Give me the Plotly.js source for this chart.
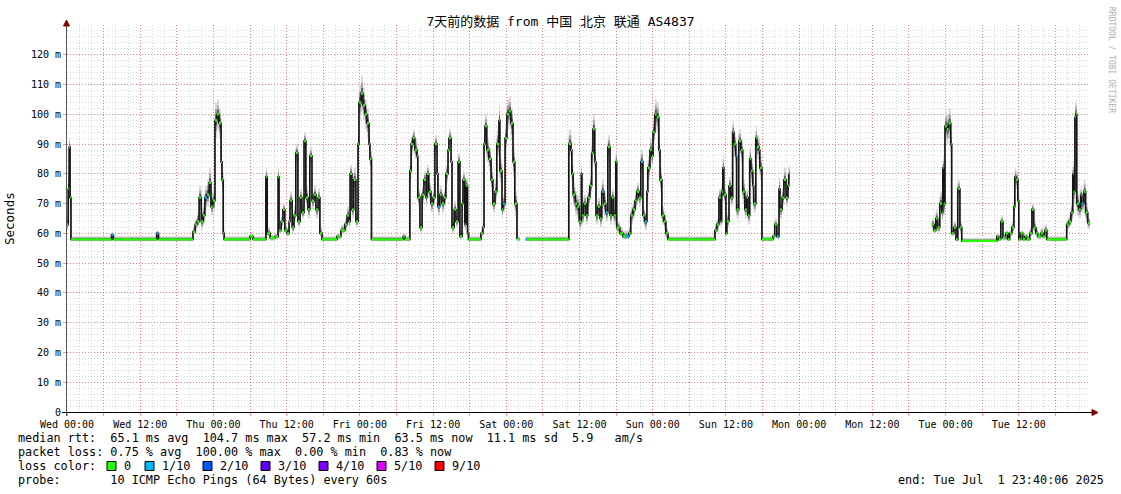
<!DOCTYPE html>
<html>
<head>
<meta charset="utf-8">
<script src="https://cdn.plot.ly/plotly-3.0.1.min.js"></script>
<style>html,body{margin:0;padding:0;background:#fff;}#chart{width:1121px;height:494px;}</style>
</head>
<body>
<div id="chart"></div>
<script>
// ---------------- DATA ----------------
// time in hours since Wed 00:00; median RTT in ms; smoke spread above/below median (ms); loss count (of 10)
const hours = [
  0.0, 0.2, 0.35, 0.5, 0.65, 7.3, 7.6, 14.7, 15.0,
  20.65, 21.0, 21.3, 21.65, 22.0, 22.3, 22.6, 22.95, 23.3, 23.6, 23.9, 24.25, 24.6, 24.9, 25.25, 25.4, 25.6, 25.75,
  30.0, 30.5, 32.6, 32.8, 33.3, 34.1, 34.6, 34.75, 35.1, 35.4,
  35.7, 36.05, 36.4, 36.55, 36.9, 37.2, 37.5, 37.85, 38.2, 38.5,
  38.85, 39.15, 39.5, 39.8, 40.15, 40.5, 40.8, 41.15, 41.45, 41.8,
  44.25, 44.9, 45.55, 45.9, 46.2, 46.4, 46.7, 47.0, 47.35, 47.7,
  47.85, 48.2, 48.5, 48.85, 49.15, 49.5, 49.65, 49.9, 55.1, 55.4,
  56.2, 56.4, 56.7, 57.0, 57.35, 57.5, 57.85, 58.2, 58.5, 58.85,
  59.0, 59.3, 59.65, 60.0, 60.3, 60.65, 60.8, 61.1, 61.45, 61.8,
  62.1, 62.45, 62.6, 62.95, 63.1, 63.45, 63.75, 64.1, 64.4, 64.75,
  64.9, 65.2, 65.4, 65.65, 65.8,
  67.85, 68.15, 68.35, 68.5, 68.8, 69.15, 69.5, 69.8, 70.15, 70.45,
  70.8, 70.95, 71.3, 71.45, 71.8, 72.1, 72.45, 72.75, 73.1, 73.4,
  73.75, 74.2, 75.2, 75.4,
  82.25, 82.6, 82.75, 82.95, 83.3, 83.6, 83.95, 84.3, 84.4, 84.7,
  85.05, 85.35, 85.7, 86.0, 86.2, 86.5, 86.7, 87.0, 87.35, 87.65,
  88.0, 88.3, 88.65, 89.0, 89.3, 89.6, 89.95, 90.1, 90.6, 91.1,
  91.6, 92.1, 92.4, 92.75, 93.1, 93.4, 93.75, 94.05, 94.4, 94.7,
  95.05, 95.2, 95.55, 95.85, 96.05, 96.35, 96.65, 97.0, 97.2, 97.5,
  97.85, 98.15, 98.5,
  106.2, 106.5, 106.85, 107.15, 107.3, 107.5, 107.65, 108.0, 108.15, 108.5,
  108.8, 109.1, 109.3, 109.6, 109.75, 110.1, 110.45, 110.75, 111.1, 111.4,
  111.6, 111.9, 112.1, 112.4, 112.55, 112.9, 113.05, 113.4, 113.55, 113.9,
  115.7, 116.0, 116.35, 116.7, 116.85, 117.2, 117.5, 117.85, 118.15, 118.3,
  118.45,
  141.75, 142.1, 142.4, 142.7, 143.05, 143.4, 143.55, 143.7, 143.9, 144.2,
  144.5, 144.85, 145.0, 145.35, 145.7, 146.0, 146.35, 146.65, 152.4, 152.7,
  153.05, 153.4, 153.85, 154.2, 154.5, 154.85, 155.2, 155.35, 155.5, 155.85,
  156.0, 156.3, 156.65, 157.0, 157.3, 157.8, 158.15, 158.45, 158.8, 159.1,
  159.6, 159.95, 160.25, 160.6, 163.85, 164.2, 164.55, 164.85, 165.0, 165.2,
  165.35, 165.5, 165.85, 166.15, 166.3, 166.65, 166.95, 167.3
];
const median = [
  63, 75, 89, 72, 58, 59.5, 58, 60, 58,
  60.5, 63, 64, 72, 64, 66, 72, 73, 77, 69, 71, 98, 100, 97, 84, 78, 60, 58,
  59, 58, 79, 60, 58.5, 59, 79, 61, 64, 68,
  61, 60, 64, 71, 62, 66, 87, 64, 72, 67,
  91, 72, 68, 86, 71, 73, 68, 72, 60, 58,
  59, 61, 63, 66, 64, 80, 68, 78, 64, 90,
  104, 107, 103, 100, 97, 90, 85, 58, 59, 58,
  81, 90, 92, 88, 86, 72, 62, 73, 78, 72,
  80, 74, 70, 72, 90, 80, 69, 73, 70, 72,
  80, 88, 92, 84, 62, 68, 64, 84, 59, 70,
  78, 63, 76, 60, 58,
  60, 62, 90, 96, 88, 85, 78, 70, 74, 90,
  98, 81, 68, 70, 92, 100, 101, 97, 84, 70,
  58, null, 58, 58,
  90, 88, 80, 73, 70, 69, 64, 80, 66, 70,
  66, 72, 76, 87, 95, 84, 66, 69, 65, 74,
  70, 67, 89, 66, 72, 66, 84, 62, 60, 59,
  59, 60, 66, 68, 71, 74, 72, 84, 66, 64,
  74, 82, 88, 86, 94, 100, 99, 88, 78, 66,
  64, 60, 58,
  61, 63, 72, 64, 74, 82, 73, 60, 64, 76,
  72, 94, 90, 86, 68, 91, 88, 74, 68, 72,
  66, 85, 81, 76, 70, 92, 89, 88, 82, 58,
  59, 63, 59, 75, 68, 72, 78, 72, 76, 80,
  null,
  63, 61, 65, 62, 70, 67, 82, 70, 96, 95,
  97, 90, 60, 62, 58, 75, 62, 57.5, 59, 58,
  64, 58.5, 60, 58, 60, 62, 69, 79, 78, 71,
  58, 60, 58, 59, 58, 60, 68, 62, 60, 59,
  60, 59, 61, 58, 63, 64, 67, 80, 74, 99,
  100, 70, 68, 73, 70, 74, 67, 63.5
];
const smokeUp = [
  3, 5, 3, 6, 1, 1, 1, 1, 1,
  2, 2, 3, 4, 5, 4, 4, 5, 5, 5, 4, 6, 5, 5, 4, 4, 2, 1,
  1, 1, 3, 2, 1, 1, 3, 2, 2, 2,
  2, 2, 2, 3, 2, 3, 3, 3, 3, 3,
  3, 4, 3, 3, 3, 3, 3, 3, 2, 1,
  1, 2, 2, 3, 3, 3, 3, 4, 3, 5,
  6, 6, 6, 5, 5, 4, 4, 1, 1, 1,
  3, 3, 3, 4, 4, 3, 2, 3, 3, 3,
  3, 3, 3, 3, 3, 4, 3, 3, 3, 3,
  3, 3, 3, 4, 3, 3, 3, 3, 2, 3,
  3, 3, 3, 2, 1,
  1, 2, 4, 4, 4, 4, 4, 4, 4, 5,
  5, 4, 3, 3, 5, 5, 5, 5, 5, 4,
  1, 0, 1, 1,
  5, 5, 5, 4, 4, 4, 3, 3, 3, 3,
  3, 3, 3, 4, 5, 4, 3, 3, 3, 4,
  4, 3, 4, 3, 3, 3, 4, 2, 2, 2,
  2, 2, 3, 3, 3, 3, 3, 4, 3, 3,
  3, 4, 4, 4, 5, 5, 5, 4, 4, 3,
  3, 2, 1,
  2, 2, 3, 3, 3, 4, 3, 2, 3, 3,
  3, 4, 4, 4, 3, 4, 4, 4, 3, 3,
  3, 4, 4, 4, 3, 4, 4, 4, 4, 1,
  1, 2, 2, 4, 3, 3, 4, 3, 4, 3,
  0,
  2, 2, 3, 2, 4, 4, 4, 4, 5, 5,
  5, 4, 2, 2, 1, 3, 2, 1, 1, 1,
  2, 1, 1, 1, 1, 2, 3, 3, 3, 3,
  1, 1, 1, 1, 1, 2, 2, 2, 2, 1,
  2, 1, 2, 1, 2, 2, 3, 4, 4, 5,
  5, 4, 3, 3, 3, 4, 3, 2
];
const smokeDown = [
  2, 5, 5, 6, 0.5, 1, 0.5, 1, 0.5,
  1, 2, 2, 4, 3, 3, 4, 4, 5, 3, 4, 6, 5, 5, 4, 4, 1, 0.5,
  1, 0.5, 3, 1, 1, 1, 3, 1, 2, 2,
  1, 1, 2, 3, 2, 2, 4, 2, 3, 2,
  4, 3, 3, 3, 3, 3, 3, 3, 1, 0.5,
  1, 1, 2, 2, 2, 4, 3, 4, 2, 5,
  6, 6, 5, 5, 5, 4, 4, 0.5, 1, 0.5,
  4, 4, 3, 3, 3, 3, 2, 3, 3, 3,
  3, 3, 3, 3, 4, 4, 3, 3, 3, 3,
  3, 3, 3, 4, 2, 3, 2, 4, 1, 3,
  3, 2, 3, 1, 0.5,
  1, 2, 4, 4, 4, 4, 4, 3, 3, 4,
  5, 4, 3, 3, 5, 5, 5, 6, 5, 4,
  0.5, 0, 0.5, 0.5,
  4, 5, 5, 4, 4, 4, 3, 4, 3, 3,
  3, 3, 3, 4, 5, 4, 3, 3, 3, 4,
  4, 3, 5, 3, 3, 3, 4, 2, 1, 1,
  1, 1, 3, 3, 3, 3, 3, 4, 3, 3,
  3, 4, 4, 4, 4, 5, 5, 4, 4, 3,
  3, 2, 0.5,
  1, 2, 3, 2, 3, 4, 3, 1, 2, 3,
  3, 4, 4, 4, 3, 4, 4, 4, 3, 3,
  3, 4, 4, 4, 3, 4, 4, 4, 4, 0.5,
  1, 2, 1, 4, 3, 3, 4, 3, 4, 3,
  0,
  2, 1, 2, 2, 3, 3, 4, 4, 5, 5,
  5, 4, 1, 2, 1, 3, 2, 0.5, 1, 0.5,
  2, 1, 1, 0.5, 1, 2, 3, 3, 3, 3,
  0.5, 1, 0.5, 1, 0.5, 1, 2, 2, 1, 1,
  1, 1, 1, 0.5, 2, 2, 3, 4, 4, 5,
  5, 4, 3, 3, 3, 3, 3, 2
];
const lossCount = [
  0, 0, 0, 0, 0, 1, 0, 1, 0,
  0, 0, 0, 0, 0, 0, 1, 0, 0, 0, 0, 0, 0, 0, 0, 0, 0, 0,
  0, 0, 0, 0, 0, 0, 0, 0, 0, 0,
  0, 0, 0, 0, 0, 0, 0, 0, 0, 0,
  0, 0, 0, 0, 0, 0, 0, 0, 0, 0,
  0, 0, 0, 0, 0, 0, 0, 0, 0, 0,
  0, 0, 0, 0, 0, 0, 0, 0, 0, 0,
  0, 0, 0, 0, 0, 0, 0, 0, 0, 0,
  0, 0, 0, 0, 0, 0, 1, 0, 0, 0,
  0, 0, 0, 0, 0, 0, 0, 0, 0, 0,
  0, 0, 0, 0, 0,
  0, 0, 0, 0, 0, 0, 0, 0, 0, 0,
  0, 0, 0, 1, 0, 0, 0, 0, 0, 0,
  0, 0, 1, 0,
  0, 0, 0, 0, 0, 0, 0, 0, 0, 0,
  0, 0, 0, 0, 0, 0, 0, 0, 0, 1,
  0, 1, 0, 0, 0, 0, 0, 0, 0, 0,
  1, 0, 0, 0, 0, 0, 0, 1, 0, 1,
  0, 0, 0, 0, 0, 0, 0, 0, 0, 0,
  0, 0, 0,
  0, 0, 0, 0, 0, 0, 0, 0, 0, 0,
  0, 0, 0, 1, 0, 0, 0, 0, 0, 0,
  0, 0, 0, 0, 0, 0, 0, 0, 0, 0,
  0, 0, 1, 0, 0, 0, 0, 0, 0, 0,
  0,
  0, 0, 0, 0, 0, 0, 0, 0, 0, 0,
  0, 0, 0, 0, 0, 0, 0, 0, 0, 0,
  0, 0, 0, 0, 0, 0, 0, 0, 0, 0,
  0, 0, 0, 0, 0, 0, 0, 0, 0, 0,
  0, 0, 0, 0, 0, 0, 0, 0, 0, 0,
  0, 0, 0, 0, 1, 0, 0, 0
];
const xEnd = 167.67; // Tue 23:40:06

const xTickHours = [0,6,12,18,24,30,36,42,48,54,60,66,72,78,84,90,96,102,108,114,120,126,132,138,144,150,156,162];
const xTickLabels = ["Wed 00:00","","Wed 12:00","","Thu 00:00","","Thu 12:00","","Fri 00:00","","Fri 12:00","",
  "Sat 00:00","","Sat 12:00","","Sun 00:00","","Sun 12:00","","Mon 00:00","","Mon 12:00","","Tue 00:00","","Tue 12:00",""];
const yTickVals = [0,10,20,30,40,50,60,70,80,90,100,110,120];
const yTickLabels = ["0","10 m","20 m","30 m","40 m","50 m","60 m","70 m","80 m","90 m","100 m","110 m","120 m"];

const lossLevels = [0,1,2,3,4,5,9];
const lossLabels = ["0","1/10","2/10","3/10","4/10","5/10","9/10"];
const lossColors = ["#26ff00","#00b8ff","#0059ff","#5e00ff","#7e00ff","#dd00ff","#ff0000"];

const titleText = "7天前的数据 from 中国 北京 联通 AS4837";
const statRtt = "median rtt:  65.1 ms avg  104.7 ms max  57.2 ms min  63.5 ms now  11.1 ms sd  5.9   am/s";
const statLoss = "packet loss: 0.75 % avg  100.00 % max  0.00 % min  0.83 % now";
const probeText = "probe:       10 ICMP Echo Pings (64 Bytes) every 60s";
const endText = "end: Tue Jul  1 23:40:06 2025";

// ---------------- RENDERING ----------------
const MONO = "'DejaVu Sans Mono', 'Noto Sans CJK SC', monospace";
const W = 1121, H = 494, PL = 67, PR = 1090, PT = 25, PB = 412;
const px = x => (x - PL) / (PR - PL);
const py = y => (PB - y) / (PB - PT);
const nb = s => s.replace(/ /g, "\u00a0");

const n = Math.min(hours.length, median.length, smokeUp.length, smokeDown.length, lossCount.length);
const segEnd = i => (i + 1 < n ? hours[i + 1] : xEnd);

// contiguous runs of valid data
const runs = [];
let cur = [];
for (let i = 0; i < n; i++) {
  if (median[i] === null) { if (cur.length) runs.push(cur); cur = []; }
  else cur.push(i);
}
if (cur.length) runs.push(cur);

const traces = [];
// smoke: three nested shades
[[1.0, "#d8d8d8"], [0.6, "#a0a0a0"], [0.3, "#5a5a5a"]].forEach(([f, col]) => {
  runs.forEach(run => {
    const xs = [], ys = [];
    run.forEach(i => {
      const t = median[i] + smokeUp[i] * f;
      xs.push(hours[i], segEnd(i)); ys.push(t, t);
    });
    for (let k = run.length - 1; k >= 0; k--) {
      const i = run[k];
      const b = median[i] - smokeDown[i] * f;
      xs.push(segEnd(i), hours[i]); ys.push(b, b);
    }
    traces.push({x: xs, y: ys, type: "scatter", mode: "lines", fill: "toself",
      fillcolor: col, line: {width: 0, color: col}, hoverinfo: "skip"});
  });
});

// median step line (dark)
const mx = hours.slice(0, n).concat([xEnd]);
const my = median.slice(0, n).concat([median[n - 1]]);
traces.push({x: mx, y: my, type: "scatter", mode: "lines", line: {shape: "hv", color: "#151515", width: 1.7},
  connectgaps: false, hoverinfo: "skip"});

// median coloured by loss (horizontal pieces)
lossLevels.forEach((lv, li) => {
  const xs = [], ys = [];
  for (let i = 0; i < n; i++) {
    if (median[i] === null || lossCount[i] !== lv) continue;
    xs.push(hours[i], segEnd(i), null); ys.push(median[i], median[i], null);
  }
  if (xs.length) traces.push({x: xs, y: ys, type: "scatter", mode: "lines",
    line: {color: lossColors[li], width: 2.4}, connectgaps: false, hoverinfo: "skip"});
});

const MGRID = "rgba(255,40,40,0.5)";
const GRID = "rgba(150,150,150,0.38)";

const annotations = [];
const txt = (x, y, s, opt) => annotations.push(Object.assign({
  xref: "paper", yref: "paper", x: px(x), y: py(y), text: nb(s), showarrow: false,
  xanchor: "left", yanchor: "middle", font: {family: MONO, size: 11.8, color: "#000"}
}, opt || {}));

const rowY = [438, 452, 466, 480];
txt(16, rowY[0], statRtt);
txt(16, rowY[1], statLoss);
txt(16, rowY[2], "loss color:");
txt(16, rowY[3], probeText);
txt(1106, rowY[3], endText, {xanchor: "right"});

const boxX = [107, 145, 203, 261, 319, 377, 435];
const shapes = [];
lossLabels.forEach((lab, k) => {
  shapes.push({type: "rect", xref: "paper", yref: "paper",
    x0: px(boxX[k]), x1: px(boxX[k] + 9), y0: py(rowY[2] + 4.5), y1: py(rowY[2] - 4.5),
    fillcolor: lossColors[k], line: {color: "#000", width: 1}});
  txt(boxX[k] + 15, rowY[2], lab);
});

// y axis title and watermark
txt(10, 219, "Seconds", {textangle: -90, xanchor: "center", font: {family: MONO, size: 12.5, color: "#000"}});
txt(1111, 60, "RRDTOOL / TOBI OETIKER", {textangle: 90, xanchor: "center", font: {family: MONO, size: 8, color: "#b0b0b0"}});

// axis lines + arrows
shapes.push({type: "line", xref: "paper", yref: "paper", x0: px(66.5), x1: px(66.5), y0: py(416), y1: py(24),
  line: {color: "#555", width: 1}});
shapes.push({type: "line", xref: "paper", yref: "paper", x0: px(62), x1: px(1093), y0: py(412.5), y1: py(412.5),
  line: {color: "#000", width: 1}});
shapes.push({type: "path", xref: "paper", yref: "paper",
  path: `M ${px(63.5)} ${py(26)} L ${px(69.5)} ${py(26)} L ${px(66.5)} ${py(20)} Z`,
  fillcolor: "#7f0000", line: {color: "#7f0000", width: 1}});
shapes.push({type: "path", xref: "paper", yref: "paper",
  path: `M ${px(1092)} ${py(409.5)} L ${px(1092)} ${py(415.5)} L ${px(1098)} ${py(412.5)} Z`,
  fillcolor: "#7f0000", line: {color: "#7f0000", width: 1}});

const layout = {
  width: W, height: H,
  margin: {l: PL, r: W - PR, t: PT, b: H - PB, pad: 0},
  paper_bgcolor: "#ffffff", plot_bgcolor: "#ffffff",
  showlegend: false, hovermode: false,
  title: {text: titleText, x: 0.5, xref: "container", xanchor: "center", y: 1 - 21 / H, yref: "container",
    yanchor: "middle", font: {family: MONO, size: 13, color: "#000"}},
  xaxis: {
    range: [0, xEnd], tickmode: "array", tickvals: xTickHours, ticktext: xTickLabels,
    showgrid: true, gridcolor: MGRID, griddash: "1px,2px", gridwidth: 1,
    zeroline: false, showline: false, ticks: "outside", ticklen: 3, tickcolor: MGRID, tickwidth: 1,
    tickfont: {family: MONO, size: 10, color: "#000"},
    minor: {tickmode: "linear", tick0: 0, dtick: 2, showgrid: true, gridcolor: GRID, griddash: "1px,2px", gridwidth: 1, ticks: ""},
    fixedrange: true
  },
  yaxis: {
    range: [0, 130], tickmode: "array", tickvals: yTickVals, ticktext: yTickLabels,
    showgrid: true, gridcolor: MGRID, griddash: "1px,2px", gridwidth: 1,
    zeroline: false, showline: false, ticks: "outside", ticklen: 3, tickcolor: MGRID, tickwidth: 1,
    tickfont: {family: MONO, size: 10, color: "#000"},
    minor: {tickmode: "linear", tick0: 0, dtick: 2, showgrid: true, gridcolor: GRID, griddash: "1px,2px", gridwidth: 1, ticks: ""},
    fixedrange: true
  },
  annotations: annotations,
  shapes: shapes
};

Plotly.newPlot("chart", traces, layout, {staticPlot: true, displayModeBar: false});
</script>
</body>
</html>
